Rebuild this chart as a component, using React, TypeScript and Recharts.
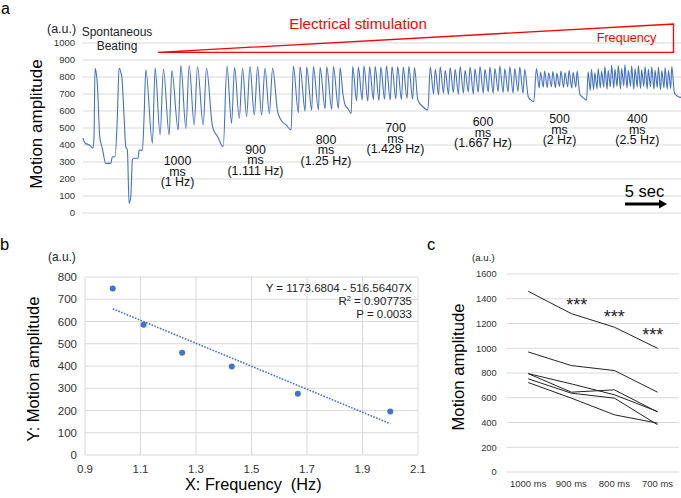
import React from "react";
import {
  LineChart,
  Line,
  XAxis,
  YAxis,
  CartesianGrid,
  ScatterChart,
  Scatter,
  ReferenceLine,
} from "recharts";

const FONT = '"Liberation Sans", Arial, sans-serif';
const GRID = "#d9d9d9";
const BLUE = "#4472C4";
const RED = "#ff0000";
const INK = "#222";

// ---- panel a: motion trace, [frame, amplitude (a.u.)] ----
const spontaneousTrace = [
  [0, 440], [1, 420], [2, 412], [3, 405], [4, 408], [5, 400], [6, 402], [7, 395], [8, 392],
  [9, 385], [10, 382], [11, 450], [12, 851], [13, 830], [14.3, 763], [16.7, 449], [19.3, 380],
  [22.7, 292], [27.7, 292], [29.3, 331], [32, 331], [34.3, 567], [36, 851], [38.7, 802],
  [41, 567], [42.7, 390], [44.3, 370], [46, 57], [47.7, 96], [49.3, 312], [51, 322], [55, 322],
  [56, 370], [59.3, 370], [61, 567],
];
const trace1000ms = [
  [62.7, 843], [69.3, 410], [72, 853], [77, 459], [80.3, 847], [86, 459], [88.7, 838], [95, 488],
  [97.7, 868], [102.7, 498], [106, 868], [111, 518], [114.3, 862], [120, 518], [123.3, 853],
  [129.3, 508], [134.3, 450], [140, 390],
];
const trace900ms = [
  [143.7, 865], [148.3, 528], [151.3, 855], [156, 557], [159.3, 851], [163.3, 567], [166.7, 861],
  [171, 576], [174.3, 861], [178.3, 576], [181.7, 851], [186, 586], [189.3, 851], [194.3, 596],
  [197.7, 547], [202.7, 518], [207.7, 488],
];
const trace800ms = [
  [210, 865], [215, 590], [216.7, 860], [221.7, 600], [223.3, 858], [228.3, 605], [230, 862],
  [235, 608], [236.7, 855], [241.7, 612], [243.3, 860], [248.3, 610], [250, 862], [255, 615],
  [256.7, 855], [259.5, 700], [262, 630], [264.3, 616], [267.7, 586],
];
const trace700ms = [
  [269.3, 862], [273.1, 660], [274.9, 858], [278.7, 665], [280.5, 865], [284.3, 658], [286.1, 860],
  [289.9, 668], [291.7, 862], [295.5, 662], [297.3, 858], [301.1, 670], [302.9, 865], [306.7, 665],
  [308.5, 860], [312.3, 672], [314.1, 862], [317.9, 668], [319.7, 858], [323.5, 675], [325.3, 862],
  [329.1, 670], [330.9, 855], [334.3, 665], [339.3, 625], [344.3, 606],
];
const trace600ms = [
  [346.7, 858], [350, 700], [351.7, 845], [355, 695], [356.6, 860], [359.9, 705], [361.6, 840],
  [364.9, 698], [366.5, 855], [369.8, 708], [371.5, 845], [374.8, 700], [376.5, 862], [379.8, 705],
  [381.4, 840], [384.7, 712], [386.4, 858], [389.7, 700], [391.3, 848], [394.6, 710], [396.3, 862],
  [399.6, 705], [401.3, 845], [404.6, 712], [406.2, 858], [409.5, 705], [411.2, 850], [414.5, 715],
  [416.1, 865], [419.4, 708], [421.1, 848], [424.4, 712], [426.1, 860], [429.4, 705], [431, 850],
  [434.3, 715], [436, 858], [439.3, 705], [441, 845], [444.5, 684], [447, 665], [450, 655],
];
const trace500ms = [
  [452.7, 850], [455.4, 735], [456.8, 828], [459.5, 740], [460.8, 835], [463.5, 738], [464.9, 825],
  [467.6, 742], [469, 832], [471.7, 736], [473, 822], [475.7, 745], [477.1, 835], [479.8, 738],
  [481.2, 826], [483.9, 742], [485.2, 838], [487.9, 735], [489.3, 828], [492, 740], [493.3, 835],
  [496, 700], [499, 680], [502.7, 665],
];
const trace400ms = [
  [504.3, 830], [506.5, 720], [507.6, 845], [509.8, 725], [511, 825], [513.2, 730], [514.3, 850],
  [516.5, 735], [517.7, 835], [519.9, 740], [521, 862], [523.2, 728], [524.3, 840], [526.5, 742],
  [527.7, 870], [529.9, 735], [531, 845], [533.2, 745], [534.4, 868], [536.6, 730], [537.7, 850],
  [539.9, 748], [541, 872], [543.2, 735], [544.4, 840], [546.6, 745], [547.7, 865], [549.9, 728],
  [551.1, 848], [553.3, 740], [554.4, 868], [556.6, 732], [557.7, 842], [559.9, 745], [561.1, 862],
  [563.3, 730], [564.4, 845], [566.6, 742], [567.8, 860], [570, 728], [571.1, 840], [573.3, 738],
  [574.4, 858], [576.6, 725], [577.8, 838], [580, 735], [581.1, 855], [583.3, 728], [584.5, 840],
  [586.7, 732], [587.8, 862], [590.5, 704], [594.3, 684], [597, 680],
];
const amplitudeTicks = [0, 100, 200, 300, 400, 500, 600, 700, 800, 900, 1000];

// ---- panel b: amplitude vs stimulation frequency ----
const frequencies = [1.0, 1.111, 1.25, 1.429, 1.667, 2.0];
const meanAmplitudes = [748, 585, 460, 398, 275, 195];
const fitIntercept = 1173.6804;
const fitSlope = -516.56407;
const freqTicks = [0.9, 1.1, 1.3, 1.5, 1.7, 1.9, 2.1];
const scatterYTicks = [0, 100, 200, 300, 400, 500, 600, 700, 800];

// ---- panel c: paired samples by pacing interval ----
const intervals = ["1000 ms", "900 ms", "800 ms", "700 ms"];
const sample1 = [1460, 1280, 1170, 1000];
const sample2 = [970, 860, 820, 645];
const sample3 = [795, 712, 624, 489];
const sample4 = [795, 645, 664, 485];
const sample5 = [753, 637, 597, 382];
const sample6 = [723, 597, 462, 395];
const pairedTicks = [0, 200, 400, 600, 800, 1000, 1200, 1400, 1600];

const traceData = [
  ...spontaneousTrace,
  ...trace1000ms,
  ...trace900ms,
  ...trace800ms,
  ...trace700ms,
  ...trace600ms,
  ...trace500ms,
  ...trace400ms,
].map(([frame, amplitude]) => ({ frame, amplitude }));

const scatterData = frequencies.map((x, i) => ({ x, y: meanAmplitudes[i] }));
const fitStart = frequencies[0];
const fitEnd = frequencies[frequencies.length - 1];

const pairedSeries = [sample1, sample2, sample3, sample4, sample5, sample6];
const pairedData = intervals.map((name, i) => {
  const row: Record<string, string | number> = { name };
  pairedSeries.forEach((s, k) => (row[`s${k}`] = s[i]));
  return row;
});

// stimulation labels drawn under the trace: [centre x, first baseline, lines]
const stimLabels: [number, number, string[]][] = [
  [177.5, 165, ["1000", "ms", "(1 Hz)"]],
  [255.5, 153.5, ["900", "ms", "(1.111 Hz)"]],
  [326, 143.5, ["800", "ms", "(1.25 Hz)"]],
  [395.5, 132, ["700", "ms", "(1.429 Hz)"]],
  [483, 126, ["600", "ms", "(1.667 Hz)"]],
  [559.5, 123.3, ["500", "ms", "(2 Hz)"]],
  [637.3, 123.3, ["400", "ms", "(2.5 Hz)"]],
];

const Dot = (props: any) => <circle cx={props.cx} cy={props.cy} r={3} fill={BLUE} />;

function Overlay() {
  return (
    <svg
      width={681}
      height={498}
      style={{ position: "absolute", left: 0, top: 0, pointerEvents: "none" }}
      fontFamily={FONT}
    >
      {/* panel letters */}
      <text x={1} y={14} fontSize={16} fill="#000">a</text>
      <text x={0} y={250} fontSize={16.5} fill="#000">b</text>
      <text x={427} y={250} fontSize={16.5} fill="#000">c</text>

      {/* panel a annotations */}
      <text x={47} y={33} fontSize={12.5} fill={INK}>(a.u.)</text>
      <text x={117} y={35.5} fontSize={12} fill={INK} textAnchor="middle">Spontaneous</text>
      <text x={117} y={50} fontSize={12} fill={INK} textAnchor="middle">Beating</text>
      <text x={358} y={29} fontSize={15.1} fill={RED} textAnchor="middle">Electrical stimulation</text>
      <polygon points="158,52.3 673.5,24 673.5,52.3" fill="none" stroke={RED} strokeWidth={1.3} />
      <text x={626.5} y={42.3} fontSize={12.6} fill={RED} textAnchor="middle">Frequency</text>
      <text transform="translate(41.5,124) rotate(-90)" fontSize={17} fill="#000" textAnchor="middle">
        Motion amplitude
      </text>
      {stimLabels.map(([cx, y0, lines]) =>
        lines.map((t, i) => (
          <text key={`${cx}-${i}`} x={cx} y={y0 + i * 10.5} fontSize={12.4} fill="#111" textAnchor="middle">
            {t}
          </text>
        ))
      )}
      <text x={644.5} y={196.7} fontSize={16.5} fill="#000" textAnchor="middle">5 sec</text>
      <line x1={625} y1={204} x2={660} y2={204} stroke="#000" strokeWidth={3} />
      <polygon points="659,199.5 667,204 659,208.5" fill="#000" />

      {/* panel b annotations */}
      <text x={48} y={261} fontSize={11.9} fill={INK}>(a.u.)</text>
      <text transform="translate(39,369) rotate(-90)" fontSize={16.5} fill="#000" textAnchor="middle">
        Y: Motion amplitude
      </text>
      <text x={253.3} y={490} fontSize={16.3} fill="#000" textAnchor="middle" xmlSpace="preserve">
        X: Frequency  (Hz)
      </text>
      <text x={412} y={291.5} fontSize={11.5} fill={INK} textAnchor="end">Y = 1173.6804 - 516.56407X</text>
      <text x={412} y={304.5} fontSize={11.5} fill={INK} textAnchor="end">
        R<tspan fontSize={7.5} dy={-4}>2</tspan><tspan dy={4}> = 0.907735</tspan>
      </text>
      <text x={412} y={317.5} fontSize={11.5} fill={INK} textAnchor="end">P = 0.0033</text>

      {/* panel c annotations */}
      <text x={472} y={261} fontSize={9.7} fill={INK}>(a.u.)</text>
      <text transform="translate(463.5,367) rotate(-90)" fontSize={16.7} fill="#000" textAnchor="middle">
        Motion amplitude
      </text>
      <text x={576.7} y={311} fontSize={18} fill={INK} textAnchor="middle">***</text>
      <text x={614.2} y={323} fontSize={18} fill={INK} textAnchor="middle">***</text>
      <text x={652.8} y={340.5} fontSize={18} fill={INK} textAnchor="middle">***</text>
    </svg>
  );
}

export default function App() {
  return (
    <div
      style={{
        position: "absolute",
        left: 0,
        top: 0,
        width: 681,
        height: 498,
        background: "#fff",
        fontFamily: FONT,
        overflow: "hidden",
      }}
    >
      {/* a: motion trace */}
      <div style={{ position: "absolute", left: 0, top: 0 }}>
        <LineChart width={681} height={230} data={traceData} margin={{ top: 43, right: 0, bottom: 17, left: 0 }}>
          <CartesianGrid stroke={GRID} vertical={false} />
          <XAxis dataKey="frame" type="number" domain={[0, 597]} hide />
          <YAxis
            width={83}
            domain={[0, 1000]}
            ticks={amplitudeTicks}
            interval={0}
            axisLine={false}
            tickLine={false}
            tick={{ fontSize: 9.5, fill: "#333", fontFamily: FONT }}
          />
          <Line
            dataKey="amplitude"
            type="monotone"
            stroke={BLUE}
            strokeWidth={1.1}
            dot={false}
            isAnimationActive={false}
          />
        </LineChart>
      </div>

      {/* b: amplitude vs frequency */}
      <div style={{ position: "absolute", left: 0, top: 230 }}>
        <ScatterChart width={450} height={268} margin={{ top: 47, right: 32, bottom: 0, left: 25 }}>
          <CartesianGrid stroke={GRID} />
          <XAxis
            dataKey="x"
            type="number"
            domain={[0.9, 2.1]}
            ticks={freqTicks}
            interval={0}
            height={43}
            tickMargin={4}
            axisLine={false}
            tickLine={false}
            tickFormatter={(v: number) => v.toFixed(1)}
            tick={{ fontSize: 11.5, fill: "#333", fontFamily: FONT }}
          />
          <YAxis
            dataKey="y"
            type="number"
            width={60}
            domain={[0, 800]}
            ticks={scatterYTicks}
            interval={0}
            axisLine={false}
            tickLine={false}
            tick={{ fontSize: 11.5, fill: "#333", fontFamily: FONT }}
          />
          <ReferenceLine
            segment={[
              { x: fitStart, y: fitIntercept + fitSlope * fitStart },
              { x: fitEnd, y: fitIntercept + fitSlope * fitEnd },
            ]}
            stroke={BLUE}
            strokeWidth={1.6}
            strokeDasharray="1.6 1.4"
          />
          <Scatter data={scatterData} fill={BLUE} shape={Dot} isAnimationActive={false} />
        </ScatterChart>
      </div>

      {/* c: paired samples */}
      <div style={{ position: "absolute", left: 440, top: 230 }}>
        <LineChart width={241} height={268} data={pairedData} margin={{ top: 44, right: 2, bottom: 0, left: 16.7 }}>
          <CartesianGrid stroke={GRID} vertical={false} />
          <XAxis
            dataKey="name"
            height={26}
            padding={{ left: 21.5, right: 21.5 }}
            axisLine={false}
            tickLine={false}
            interval={0}
            tick={{ fontSize: 9.5, fill: "#333", fontFamily: FONT }}
          />
          <YAxis
            width={50}
            domain={[0, 1600]}
            ticks={pairedTicks}
            interval={0}
            tickMargin={4}
            axisLine={false}
            tickLine={false}
            tick={{ fontSize: 9.3, fill: "#333", fontFamily: FONT }}
          />
          {pairedSeries.map((_, k) => (
            <Line
              key={k}
              dataKey={`s${k}`}
              type="linear"
              stroke={INK}
              strokeWidth={1}
              dot={false}
              isAnimationActive={false}
            />
          ))}
        </LineChart>
      </div>

      <Overlay />
    </div>
  );
}
